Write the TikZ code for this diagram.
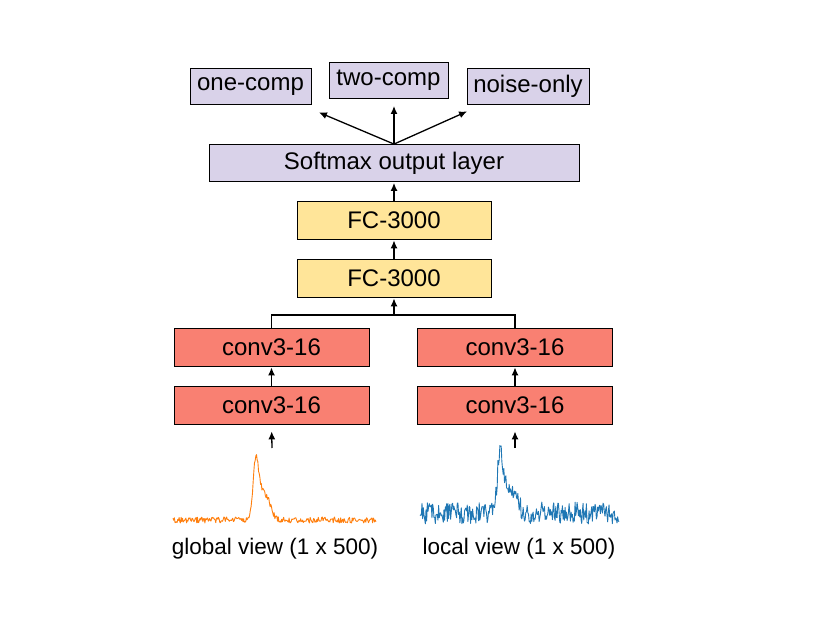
\documentclass[tikz,border=0pt]{standalone}
\usepackage{fontspec}
\setmainfont{Liberation Sans}
\usepackage{xcolor}
\usetikzlibrary{arrows.meta}
\definecolor{outcolor}{RGB}{217,210,233}
\definecolor{fccolor}{RGB}{255,229,153}
\definecolor{convcolor}{RGB}{249,128,114}
\definecolor{globalcolor}{RGB}{255,127,14}
\definecolor{localcolor}{RGB}{31,119,180}

\begin{document}
\begin{tikzpicture}[x=1pt, y=-1pt,
    layer/.style={draw, line width=0.8pt, inner sep=0pt, font=\fontsize{24}{28}\selectfont},
    outbox/.style={layer, fill=outcolor, minimum height=36pt},
    fcbox/.style={layer, fill=fccolor, minimum width=194pt, minimum height=38pt},
    convbox/.style={layer, fill=convcolor, minimum width=195pt, minimum height=38pt},
    arr/.style={-{Latex[length=8pt,width=7pt]}, line width=1.3pt, shorten >=1pt},
    link/.style={line width=1.3pt},
    caption/.style={font=\fontsize{22.5}{27}\selectfont}]
    \useasboundingbox (0,0) rectangle (830,623);

    % output classes
    \node [outbox, minimum width=121pt] (onecomp) at (250.5,86.5) {one-comp};
    \node [outbox, minimum width=119pt] (twocomp) at (388.5,80) {two-comp};
    \node [outbox, minimum width=122pt] (noiseonly) at (528,86.5) {noise-only};
    \node [outbox, minimum width=370pt, minimum height=37pt] (softmax) at (394,163) {Softmax output layer};

    % fully connected layers
    \node [fcbox] (fc2) at (394,220) {FC-3000};
    \node [fcbox] (fc1) at (394,278) {FC-3000};

    % convolution columns
    \node [convbox] (gconv2) at (271.5,347) {conv3-16};
    \node [convbox] (gconv1) at (271.5,405) {conv3-16};
    \node [convbox] (lconv2) at (515,347) {conv3-16};
    \node [convbox] (lconv1) at (515,405) {conv3-16};

    \coordinate (toone) at (318,112);
    \coordinate (totwo) at (394,105);
    \coordinate (tonoise) at (468,111);
    \coordinate (merge) at (394,315);
    \coordinate (gin) at (272,448);
    \coordinate (lin) at (515,448);

    \draw [arr] (softmax.north) -- (toone);
    \draw [arr] (softmax.north) -- (totwo);
    \draw [arr] (softmax.north) -- (tonoise);
    \draw [arr] (fc2) -- (softmax);
    \draw [arr] (fc1) -- (fc2);
    \draw [link] (gconv2.north) |- (merge) -| (lconv2.north);
    \draw [arr] (merge) -- (fc1.south);
    \draw [arr] (gconv1) -- (gconv2);
    \draw [arr] (lconv1) -- (lconv2);
    \draw [arr, shorten >=7pt] (gin) -- (gconv1.south);
    \draw [arr, shorten >=7pt] (lin) -- (lconv1.south);

    % input views
    \pgfmathsetseed{42}
    \draw [globalcolor, line width=0.9pt, line join=round]
        plot [domain=173:376, samples=300]
        (\x, {520 - 63*((\x<256)*exp(max(-20,-((\x-256)/4)^2))
            + (\x>=256)*(0.55*exp(max(-20,-((\x-256)/4)^2))
            + 0.45*exp(max(-20,-((\x-257)/15)^4)))) + 3*rand});
    \draw [localcolor, line width=0.9pt, line join=round]
        plot [domain=420:619, samples=300]
        (\x, {513 - 60*((\x<500)*exp(max(-20,-((\x-500)/4)^2))
            + (\x>=500)*(0.55*exp(max(-20,-((\x-500)/4)^2))
            + 0.45*exp(max(-20,-((\x-502)/17)^4)))) + 11*rand});

    \node [caption] (gcap) at (275,549) {global view (1 x 500)};
    \node [caption] (lcap) at (519,549) {local view (1 x 500)};
\end{tikzpicture}
\end{document}
